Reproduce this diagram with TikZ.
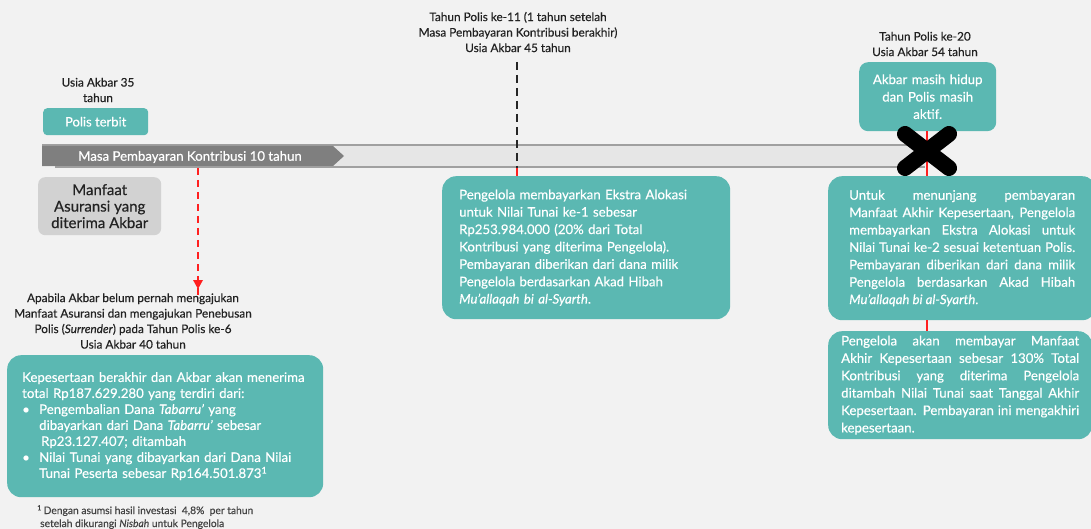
\documentclass[tikz,border=0pt]{standalone}
\usepackage{fontspec}
\setmainfont{Lato}[FakeBold=0.4]
\usetikzlibrary{arrows.meta}
\definecolor{bgc}{HTML}{F2F2F2}
\definecolor{tealc}{HTML}{5BB8B2}
\definecolor{darkbar}{HTML}{7F7F7F}
\definecolor{lightbar}{HTML}{E6E6E6}
\definecolor{barline}{HTML}{A0A0A0}
\definecolor{greybox}{HTML}{D2D2D2}
\definecolor{redc}{HTML}{FF2020}
\definecolor{txt}{HTML}{222222}
\newcommand{\bulx}{\makebox[17pt][l]{•}}
\newcommand{\indx}{\hspace*{17pt}}
\begin{document}
\begin{tikzpicture}[x=1pt,y=-1pt,
  tbox/.style={fill=tealc, rounded corners=14pt, text=white, inner ysep=0pt, anchor=north west},
  para/.style={font=\fontsize{13.2}{17.4}\selectfont},
  lbl/.style={text=txt, align=center, inner sep=0pt, font=\fontsize{11.8}{15.5}\selectfont},
  reddash/.style={draw=redc, line width=2pt, dash pattern=on 7pt off 5pt},
  redline/.style={draw=redc, line width=2pt},
  blackdash/.style={draw=black!85, line width=2.5pt, dash pattern=on 8pt off 5pt}
]
\useasboundingbox[fill=bgc] (0,0) rectangle (1091,529);

% timeline bar
\fill[lightbar] (42,145) rectangle (925,167);
\draw[barline, line width=1.5pt] (42,145) -- (925,145);
\draw[barline, line width=1.5pt] (55,167) -- (925,167);
\fill[darkbar] (42,146) -- (333,146) -- (344,156) -- (333,166) -- (42,166) -- cycle;
\node[text=white, inner sep=0pt, font=\fontsize{13.2}{15}\selectfont] (masa) at (190,157) {Masa Pembayaran Kontribusi 10 tahun};

% left top
\node[lbl] (usia35) at (98,90) {Usia Akbar 35\\tahun};
\node[fill=tealc, rounded corners=4pt, text=white, anchor=north west, minimum width=105pt, minimum height=27pt, inner sep=0pt, font=\fontsize{13}{15}\selectfont] (polis) at (43,108) {Polis terbit};
\node[fill=greybox, rounded corners=7pt, text=txt, anchor=north west, minimum width=123pt, minimum height=58pt, inner sep=0pt, align=center, font=\fontsize{15}{16.5}\selectfont] (manfaat) at (38,177) {Manfaat\\Asuransi yang\\diterima Akbar};

% surrender branch
\coordinate (redtop) at (198,168);
\node[lbl] (surr) at (133,321) {Apabila Akbar belum pernah mengajukan\\Manfaat Asuransi dan mengajukan Penebusan\\Polis (\textit{Surrender}) pada Tahun Polis ke-6\\Usia Akbar 40 tahun};
\coordinate (redend) at (198,289);
\draw[reddash] (redtop) -- ([yshift=-6pt]redend);
\fill[redc] (redend) -- ++(-5,-9) -- ++(10,0) -- cycle;

\node[tbox, minimum width=316pt, minimum height=142pt, inner xsep=15pt, text width=286pt, align=left, font=\fontsize{13.2}{16}\selectfont] (surrbox) at (7,355) {Kepesertaan berakhir dan Akbar akan menerima\\
total Rp187.629.280 yang terdiri dari:\\
\bulx Pengembalian Dana \textit{Tabarru'} yang\\
\indx dibayarkan dari Dana \textit{Tabarru'} sebesar\\
\indx\hspace*{2pt}Rp23.127.407; ditambah\\
\bulx Nilai Tunai yang dibayarkan dari Dana Nilai\\
\indx Tunai Peserta sebesar Rp164.501.873\textsuperscript{1}};

\node[anchor=north west, inner sep=0pt, text=txt!85, align=left, font=\fontsize{10.3}{13}\selectfont] (foot) at (37,505) {\textsuperscript{1}\,Dengan asumsi hasil investasi\ \ 4,8\%\ \ per tahun\\\hspace*{3pt}setelah dikurangi \textit{Nisbah} untuk Pengelola};

% middle
\node[lbl] (top11) at (518,32) {Tahun Polis ke-11 (1 tahun setelah\\Masa Pembayaran Kontribusi berakhir)\\Usia Akbar 45 tahun};
\node[tbox, minimum width=288pt, minimum height=143pt, inner xsep=17pt, text width=254pt, align=left, para] (midbox) at (442,176) {Pengelola membayarkan Ekstra Alokasi\\
untuk Nilai Tunai ke-1 sebesar\\
Rp253.984.000 (20\% dari Total\\
Kontribusi yang diterima Pengelola).\\
Pembayaran diberikan dari dana milik\\
Pengelola berdasarkan Akad Hibah\\
\textit{Mu'allaqah bi al-Syarth}.};
\coordinate (blacktop) at (517,62);
\coordinate (blackend) at (517,168);
\draw[blackdash] (blacktop) -- (blackend);
\draw[redline] (blackend) -- (blackend |- midbox.north);

% right
\node[lbl] (top20) at (925,44) {Tahun Polis ke-20\\Usia Akbar 54 tahun};
\node[tbox, rounded corners=9pt, minimum width=137pt, minimum height=69pt, inner xsep=6pt, text width=125pt, align=center, para] (hidup) at (859,62) {Akbar masih hidup\\dan Polis masih\\aktif.};
\node[tbox, minimum width=268pt, minimum height=144pt, inner xsep=21pt, text width=226pt, align=justify, para] (rbox1) at (828,176) {Untuk menunjang pembayaran\linebreak
Manfaat Akhir Kepesertaan, Pengelola\linebreak
membayarkan Ekstra Alokasi untuk\linebreak
Nilai Tunai ke-2 sesuai ketentuan Polis.\linebreak
Pembayaran diberikan dari dana milik\linebreak
Pengelola berdasarkan Akad Hibah\linebreak
\textit{Mu'allaqah bi al-Syarth}.};
\node[tbox, minimum width=264pt, minimum height=108pt, inner xsep=13pt, text width=238pt, align=justify, para] (rbox2) at (828,331) {Pengelola akan membayar Manfaat\linebreak
Akhir Kepesertaan sebesar 130\% Total\linebreak
Kontribusi yang diterima Pengelola\linebreak
ditambah Nilai Tunai saat Tanggal Akhir\linebreak
Kepesertaan. Pembayaran ini mengakhiri\linebreak
kepesertaan.};
\coordinate (xc) at (927,151);
\draw[redline] (xc |- hidup.south) -- (xc |- rbox1.north);
\draw[redline] (xc |- rbox1.south) -- (xc |- rbox2.north);
\draw[black, line width=16pt, line cap=round] ([shift={(-22,-17)}]xc) -- ([shift={(22,17)}]xc);
\draw[black, line width=16pt, line cap=round] ([shift={(-22,17)}]xc) -- ([shift={(22,-17)}]xc);
\end{tikzpicture}
\end{document}
